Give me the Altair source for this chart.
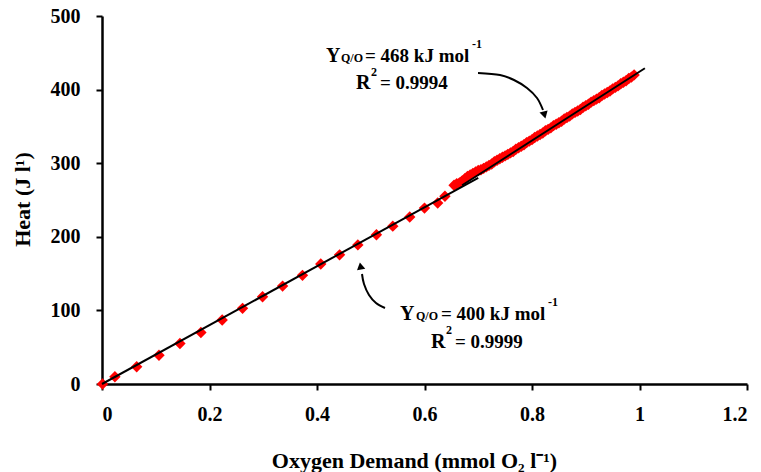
import altair as alt
import pandas as pd

FONT = "Liberation Serif"

# ---- data ----
# discrete measurements (early part of the curve)
x_early = [0.001, 0.024, 0.0645, 0.106, 0.145, 0.184, 0.2236, 0.2615, 0.2987, 0.336,
           0.373, 0.407, 0.442, 0.476, 0.5106, 0.541, 0.5725, 0.600, 0.6245, 0.638]
y_early = [0, 9.9, 23.4, 39, 55, 70, 87, 102.8, 118.5, 133,
           147.6, 163, 175.5, 189, 202.7, 214.5, 227, 239, 246, 255]

# dense measurements (later part of the curve)
x_late = [0.655, 0.660, 0.665, 0.670, 0.675, 0.680, 0.685, 0.690, 0.695,
          0.700, 0.705, 0.710, 0.715, 0.720, 0.725, 0.730, 0.735, 0.740, 0.745,
          0.750, 0.755, 0.760, 0.765, 0.770, 0.775, 0.780, 0.785, 0.790, 0.795,
          0.800, 0.805, 0.810, 0.815, 0.820, 0.825, 0.830, 0.835, 0.840, 0.845,
          0.850, 0.855, 0.860, 0.865, 0.870, 0.875, 0.880, 0.885, 0.890, 0.895,
          0.900, 0.905, 0.910, 0.915, 0.920, 0.925, 0.930, 0.935, 0.940, 0.945,
          0.950, 0.955, 0.960, 0.965, 0.970, 0.975, 0.980, 0.985, 0.990]
y_late = [270, 272, 273, 276, 279, 282, 284, 286, 288,
          290, 291, 293, 295, 297, 299, 302, 304, 306, 308,
          310, 312, 314, 316, 319, 321, 323, 325, 328, 330,
          332, 335, 337, 339, 341, 344, 346, 348, 351, 353,
          355, 357, 360, 362, 364, 367, 369, 371, 373, 376,
          378, 380, 383, 385, 387, 389, 392, 394, 396, 398,
          401, 403, 405, 408, 410, 412, 415, 417, 420]

# fitted lines (end points)
fit1_x = [0.0, 0.70]
fit1_y = [0.0, 280.0]
fit2_x = [0.67, 1.01]
fit2_y = [270.0, 429.0]

x_ticks = [0, 0.2, 0.4, 0.6, 0.8, 1.0, 1.2]
y_ticks = [0, 100, 200, 300, 400, 500]

# ---- layout ----
PL, PT, PR, PB = 102, 16, 14, 88
W, H = 645, 368

pts = pd.DataFrame({"x": x_early + x_late, "y": y_early + y_late})
fits = pd.DataFrame({
    "x": fit1_x + fit2_x,
    "y": fit1_y + fit2_y,
    "fit": ["a"] * len(fit1_x) + ["b"] * len(fit2_x),
})

xs = alt.Scale(domain=[0, 1.2], nice=False)
ys = alt.Scale(domain=[0, 500], nice=False)

xax = alt.Axis(values=x_ticks, format="~g", title="Oxygen Demand (mmol O₂ l⁻¹)",
               labelPadding=14, titleX=312, titleY=83, titleBaseline="alphabetic",
               titleAlign="center")
yax = alt.Axis(values=y_ticks, title="Heat (J l¹)", labelPadding=16,
               titleX=-80, titleY=H / 2 - 1, titleBaseline="middle", titleAlign="center",
               titleAngle=270)

points = alt.Chart(pts).mark_point(shape="diamond", filled=True, color="#FF0000",
                                   size=130, opacity=1).encode(
    x=alt.X("x:Q", scale=xs, axis=xax),
    y=alt.Y("y:Q", scale=ys, axis=yax),
)

lines = alt.Chart(fits).mark_line(color="black", strokeWidth=2).encode(
    x=alt.X("x:Q", scale=xs),
    y=alt.Y("y:Q", scale=ys),
    detail="fit:N",
)

# arrows (pixel coordinates of the plot area)
arrow_df = pd.DataFrame({
    "px": [478, 500, 514, 527, 537, 543, 385, 376, 369, 364, 362],
    "py": [73, 75, 80, 88, 98, 110, 308, 303, 295, 284, 274],
    "a": ["1"] * 6 + ["2"] * 5,
})
arrow_df["px"] = arrow_df["px"] - PL
arrow_df["py"] = arrow_df["py"] - PT
arrows = alt.Chart(arrow_df).mark_line(color="black", strokeWidth=2,
                                       interpolate="cardinal").encode(
    x=alt.X("px:Q", scale=None),
    y=alt.Y("py:Q", scale=None),
    detail="a:N",
)

one = pd.DataFrame({"k": [0]})


def head(x, y, shape, angle):
    return alt.Chart(one).mark_point(shape=shape, filled=True, color="black", size=70,
                                     opacity=1, angle=angle).encode(
        x=alt.value(x - PL), y=alt.value(y - PT))


def txt(s, x, y, size):
    return alt.Chart(one).mark_text(text=s, align="left", baseline="alphabetic",
                                    font=FONT, fontWeight="bold", fontSize=size,
                                    color="black").encode(
        x=alt.value(x - PL), y=alt.value(y - PT))


annots = [
    head(544.5, 115, "triangle-down", 345),
    head(360.5, 266, "triangle-up", 350),
    txt("Y", 326, 62, 20), txt("Q/O", 341, 62, 12), txt("= 468 kJ mol", 365, 62, 19),
    txt("-1", 472, 48, 12),
    txt("R", 356, 89, 20), txt("2", 371, 76, 12), txt("= 0.9994", 380, 89, 19),
    txt("Y", 400, 320, 20), txt("Q/O", 416, 320, 12), txt("= 400 kJ mol", 441, 320, 19),
    txt("-1", 548, 306, 12),
    txt("R", 431, 348, 20), txt("2", 446, 334, 12), txt("= 0.9999", 455, 348, 19),
]

chart = alt.layer(points, lines, arrows, *annots).properties(
    width=W, height=H,
    autosize=alt.AutoSizeParams(type="none"),
    padding={"left": PL, "top": PT, "right": PR, "bottom": PB},
).configure_view(stroke=None).configure_axis(
    grid=False,
    domainColor="black", domainWidth=2.5,
    tickColor="black", tickWidth=2, tickSize=6,
    labelFont=FONT, labelFontWeight="bold", labelFontSize=20, labelColor="black",
    titleFont=FONT, titleFontWeight="bold", titleFontSize=22, titleColor="black",
)

chart.save("out.html", embed_options={"renderer": "svg", "actions": False})
